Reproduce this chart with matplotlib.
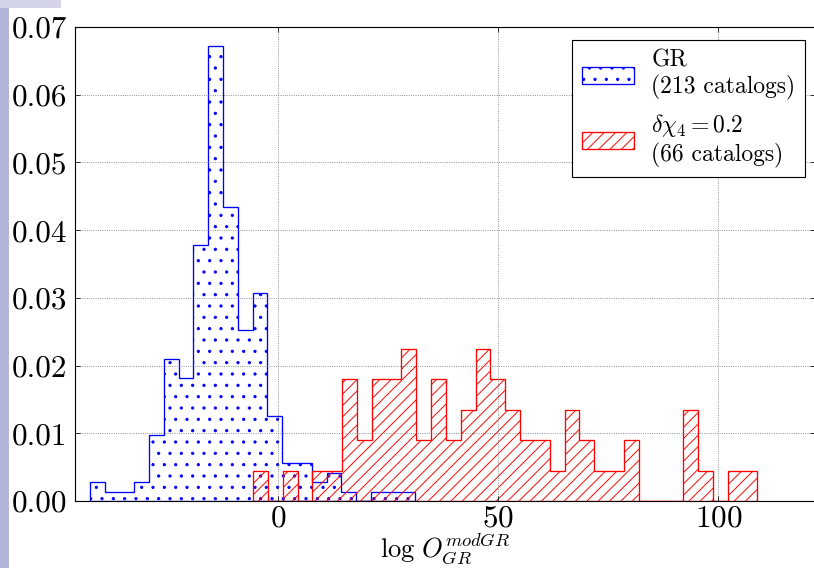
import numpy as np
import matplotlib
matplotlib.use("Agg")
import matplotlib.pyplot as plt
from matplotlib.patches import Rectangle
from matplotlib.ticker import FormatStrFormatter

plt.rcParams['font.family'] = 'serif'
plt.rcParams['font.serif'] = ['cmr10', 'DejaVu Serif']
plt.rcParams['mathtext.fontset'] = 'cm'
plt.rcParams['axes.formatter.use_mathtext'] = True

# counts per bin
gr_counts = [2, 1, 1, 2, 7, 15, 13, 27, 48, 31, 18, 22, 9, 4, 4, 2, 3, 1, 0, 1, 1, 1]
gr_range = (-42.6, 31.2)
mod_counts = [1, 0, 1, 0, 1, 1, 4, 2, 4, 4, 5, 2, 4, 2, 3, 5, 4, 3, 2, 2,
              1, 3, 2, 1, 1, 2, 0, 0, 0, 3, 1, 0, 1, 1]
mod_range = (-5.6, 108.84)

gr_label = "GR\n(213 catalogs)"
mod_label = "$\\delta\\chi_4 = 0.2$\n(66 catalogs)"
x_ticks = [0, 50, 100]
y_ticks = np.arange(0, 0.071, 0.01)

DPI = 68
fig = plt.figure(figsize=(814 / DPI, 568 / DPI), dpi=DPI)
fig.patch.set_facecolor('white')
# bit of the slide background at the left edge
fig.patches.append(Rectangle((0, 0), 8 / 814, 1, transform=fig.transFigure,
                             color='#b3b5d8', zorder=-10))
fig.patches.append(Rectangle((0, 1 - 7 / 568), 60 / 814, 7 / 568, transform=fig.transFigure,
                             color='#d3d4ea', zorder=-10))

ax = fig.add_axes([75 / 814, 67 / 568, 740 / 814, 474 / 568])

gr_edges = np.linspace(gr_range[0], gr_range[1], len(gr_counts) + 1)
mod_edges = np.linspace(mod_range[0], mod_range[1], len(mod_counts) + 1)
gr_centers = 0.5 * (gr_edges[:-1] + gr_edges[1:])
mod_centers = 0.5 * (mod_edges[:-1] + mod_edges[1:])

ax.hist(gr_centers, bins=gr_edges, weights=gr_counts, density=True,
        histtype='stepfilled', facecolor='none', edgecolor='blue',
        hatch='.', lw=1.4, label=gr_label)
ax.hist(mod_centers, bins=mod_edges, weights=mod_counts, density=True,
        histtype='stepfilled', facecolor='none', edgecolor='red',
        hatch='//', lw=1.4, label=mod_label)

ax.set_xlim(-46, 121.9)
ax.set_ylim(0, 0.07)
ax.set_xticks(x_ticks)
ax.set_yticks(y_ticks)
ax.yaxis.set_major_formatter(FormatStrFormatter('%.2f'))
ax.grid(True, color='0.45', linestyle=':', lw=0.9)
ax.tick_params(direction='in', top=True, right=True, length=5, labelsize=33)
ax.tick_params(axis='y', pad=8)
ax.tick_params(axis='x', pad=4)
for sp in ax.spines.values():
    sp.set_linewidth(1.2)

ax.set_xlabel("$\\log\\, O_{GR}^{modGR}$", fontsize=28, labelpad=-2)

leg = ax.legend(loc='upper right', bbox_to_anchor=(805 / 814, 1 - 40 / 568),
                bbox_transform=fig.transFigure, borderaxespad=0,
                fontsize=25, handlelength=2.2, handleheight=0.75,
                handletextpad=0.75, fancybox=False, framealpha=1)
leg.get_frame().set_edgecolor('black')
leg.get_frame().set_linewidth(1.2)

fig.savefig("out.png", dpi=DPI)
